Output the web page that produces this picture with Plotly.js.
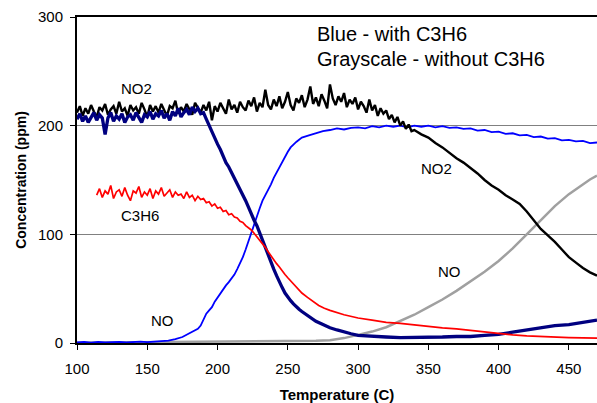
<!DOCTYPE html>
<html>
<head>
<meta charset="utf-8">
<script src="https://cdn.plot.ly/plotly-3.0.1.min.js"></script>
<style>html,body{margin:0;padding:0;background:#fff;}#chart{width:597px;height:403px;}</style>
</head>
<body>
<div id="chart"></div>
<script>
// NO2 without C3H6 (black)
const no2WithoutT = [100,102,104,106,108,110,112,114,116,118,120,122,124,126,128,130,132,134,136,138,140,142,144,146,148,150,152,154,156,158,160,162,164,166,168,170,172,174,176,178,180,182,184,186,188,190,192,194,196,198,200,202,204,206,208,210,212,214,216,218,220,222,224,226,228,230,232,234,236,238,240,242,244,246,248,250,252,254,256,258,260,262,264,266,268,270,272,274,276,278,280,282,284,286,288,290,292,294,296,298,300,302,304,306,308,310,312,314,316,318,320,322,324,326,328,330,332,334,336,338,340,345,350,355,360,365,370,375,380,385,390,395,400,405,410,415,420,425,430,435,440,445,450,455,460,465,470];
const no2WithoutC = [212,218,209,216,211,219,213,208,217,214, 220,210,215,218,211,222,213,216,209,219, 214,217,211,221,215,208,219,213,218,212, 220,214,209,218,216,223,211,217,213,220, 215,210,221,216,212,219,214,222,205,218, 213,221,216,211,224,215,219,212,222,217, 214,223,218,226,213,221,217,233,219,215, 224,218,227,216,222,231,219,214,225,221, 228,217,224,236,220,226,218,229,223,216, 238,225,219,227,222,230,217,224,220,226, 215,222,218,212,224,214,219,209,216,211, 214,206,210,203,208,200,204,197,201,195, 196,192,189,184,180,175,170,166,161,156,150,145,141,136,132,128,121,113,105,99,93,86,79,74,69,65,62];

// NO2 with C3H6 (navy)
const no2WithT = [100,102,104,106,108,110,112,114,116,118,120,122,124,126,128,130,132,134,136,138,140,142,144,146,148,150,152,154,156,158,160,162,164,166,168,170,172,174,176,178,180,182,184,186,188,190,192,194,196,198,200,202,204,206,208,210,212,214,216,218,220,222,224,226,228,230,232,234,236,238,240,242,244,246,248,250,252,254,256,258,260,265,270,275,280,285,290,295,300,310,320,330,340,350,360,370,380,390,400,410,420,430,440,450,460,470];
const no2WithC = [206,211,204,209,203,208,212,205,210,207, 192,207,212,204,209,206,211,203,208,210, 205,212,207,203,210,208,213,206,211,209, 214,207,211,205,213,209,216,208,212,215, 210,217,213,216,211, 212,206,200,195,189,183,178,172,166,162,157,152,146,141,136,131,125,118,113,108,101,94,87,80,74,68,62,56,51,46,42,39,36,33,31,29, 24.5,20,17,14,12,10,8.5,7,6,5.5,5,5,5,5.5,6,6,7,8,10,12,14,16,17,19,21];

// NO with C3H6 (blue)
const noWithT = [100,105,110,115,120,125,130,135,140,145,150,155,160,165,170,175,180,183,186,188,190,192,194,196,198,200,202,204,206,208,210,212,214,216,218,220,222,224,226,228,230,232,234,236,238,240,242,244,246,248,250,252,254,256,258,260,265,270,275,280,285,290,295,300,305,310,315,320,325,330,335,340,345,350,355,360,365,370,375,380,385,390,395,400,405,410,415,420,425,430,435,440,445,450,455,460,465,470];
const noWithC = [0.5,0.9,0.4,1.0,0.6,0.8,1.1,0.5,0.9,1.2,0.8,1.3,1.6,2.2,3.5,5.5,9,11,13,16,21,27,30,33,38,42,46,50,53,56,59,63,68,73,79,86,94,100,108,116,124,131,136,140,146,152,157,162,167,172,176,180,183,185,187,189,191,193,195,196,197.5,196.5,198,198.5,197.5,199.5,198.5,200,199,200,198.5,200,199,200,198.5,199.5,198,198.5,197,197.5,195.5,196,194,194.5,192.5,193,191,191.5,189.5,190,188,188.5,186.5,187,185.5,186,184,184.5];

// C3H6 (red)
const c3h6T = [114,116,118,120,122,124,126,128,130,132,134,136,138,140,142,144,146,148,150,152,154,156,158,160,162,164,166,168,170,172,174,176,178,180,182,184,186,188,190,192,194,196,198,200,202,204,206,208,210,212,214,216,218,220,222,224,226,228,230,232,234,236,238,240,242,244,246,248,250,252,254,256,258,260,264,268,272,276,280,290,300,310,320,330,340,350,360,370,380,390,400,410,420,430,440,450,460,470];
const c3h6C = [136,142,134,140,137,145,133,139,141,135, 143,136,131,140,138,144,134,139,136,142, 133,140,137,143,135,138,141,134,139,136, 137,133,139,134,136,131,135,132,133,129, 130,126,128,124,125,121,122,118,119,116, 115,112,111,108,106,104,101,98,95,91,88,84,80,77,73,70,66,63,60,57,54,51,48,46,42,38,34.5,32,30,26,23,21,19,18,16.5,15,14,13,11.5,10,9,7.5,6.5,5.8,5.3,5,4.7,4.5];

// NO without C3H6 (gray)
const noWithoutT = [100,125,150,175,200,225,250,260,270,280,290,300,310,320,330,340,350,360,370,380,390,400,410,420,430,440,450,455,460,465,470];
const noWithoutC = [0.3,0.5,0.6,0.8,1,1.2,1.5,1.7,2,2.5,4.5,7.5,10.5,14.5,20,26,33,40,48,56.5,65.5,75.5,87,100,113,126,137,141.5,146,150.5,154];

const labelText = ['NO2','NO2','C3H6','NO','NO'];
const labelT = [142,355.5,145,160.7,365];
const labelC = [234,161,117,20.6,66];
const noteLines = ['Blue - with C3H6','Grayscale - without C3H6'];
const xTicks = [100,150,200,250,300,350,400,450];
const yTicks = [0,100,200,300];

const traces = [
  {x: noWithoutT, y: noWithoutC, mode:'lines', line:{color:'#a0a0a0', width:2.5}},
  {x: noWithT, y: noWithC, mode:'lines', line:{color:'#0000ff', width:1.8}},
  {x: no2WithoutT, y: no2WithoutC, mode:'lines', line:{color:'#000000', width:2.4}},
  {x: no2WithT, y: no2WithC, mode:'lines', line:{color:'#000080', width:3.3}},
  {x: c3h6T, y: c3h6C, mode:'lines', line:{color:'#ff0000', width:1.7}}
];

const ann = labelText.map((t,i)=>({x: labelT[i], y: labelC[i], xref:'x', yref:'y', text: t, showarrow:false, font:{size:15, color:'#000', family:'Arial'}}));
ann.push({x: 269.3, y: 284, xref:'x', yref:'y', text: noteLines[0], xanchor:'left', showarrow:false, font:{size:20, color:'#000', family:'Arial'}});
ann.push({x: 269.3, y: 261, xref:'x', yref:'y', text: noteLines[1], xanchor:'left', showarrow:false, font:{size:20, color:'#000', family:'Arial'}});

const layout = {
  width:597, height:403,
  margin:{l:77, r:0, t:17, b:60, pad:0},
  paper_bgcolor:'#fff', plot_bgcolor:'#fff',
  showlegend:false,
  font:{family:'Arial', color:'#000', size:15},
  xaxis:{range:[100,470], tickvals:xTicks, ticktext:xTicks.map(String), ticks:'outside', ticklen:5, tickwidth:1, tickcolor:'#000',
    showline:true, linewidth:2, linecolor:'#000', mirror:true, showgrid:false, zeroline:false, ticklabelstandoff:6,
    tickfont:{size:15, family:'Arial'},
    title:{text:'<b>Temperature (C)</b>', font:{size:15, family:'Arial'}, standoff:14}},
  yaxis:{range:[0,300], tickvals:yTicks, ticktext:yTicks.map(String), ticks:'outside', ticklen:5, tickwidth:1, tickcolor:'#000',
    showline:true, linewidth:2, linecolor:'#000', showgrid:true, gridcolor:'#808080', gridwidth:1.5, zeroline:false, ticklabelstandoff:4,
    tickfont:{size:15, family:'Arial'},
    title:{text:'<b>Concentration (ppm)</b>', font:{size:14, family:'Arial'}, standoff:8}},
  annotations: ann
};

Plotly.newPlot('chart', traces, layout, {staticPlot:true, displayModeBar:false});
</script>
</body>
</html>
